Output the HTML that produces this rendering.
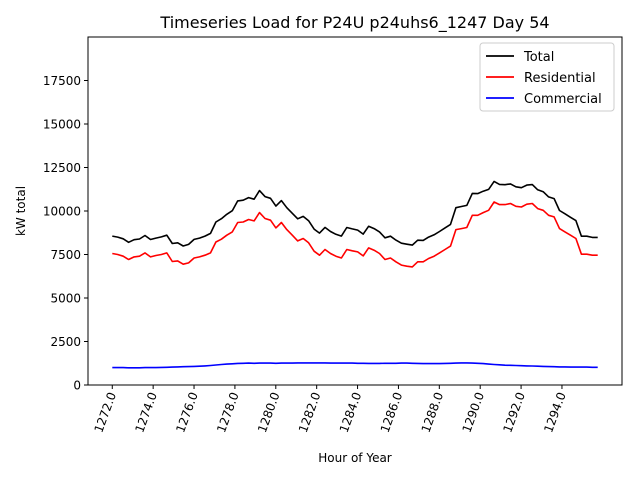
<!DOCTYPE html>
<html><head><meta charset="utf-8"><style>
body{margin:0;background:#fff;}
svg text{font-family:"DejaVu Sans","Liberation Sans",sans-serif;}
</style></head><body>
<svg id="chart" width="640" height="480" viewBox="0 0 640 480">
<rect width="640" height="480" fill="#fff"/>
<text x="355" y="28" font-size="16" text-anchor="middle">Timeseries Load for P24U p24uhs6_1247  Day 54</text>
<g id="plot"></g>
<rect x="88" y="37" width="534" height="348" fill="none" stroke="#000" stroke-width="1"/>
<text x="355" y="462" font-size="12" text-anchor="middle">Hour of Year</text>
<text x="25" y="211" font-size="12" text-anchor="middle" transform="rotate(-90 25 211)">kW total</text>
<g>
<rect x="480" y="43" width="134" height="68" rx="3" fill="#fff" stroke="#ccc"/>
<line x1="486" y1="56" x2="514" y2="56" stroke="#000" stroke-width="1.8"/>
<text x="524" y="61" font-size="13">Total</text>
<line x1="486" y1="77" x2="514" y2="77" stroke="#f00" stroke-width="1.8"/>
<text x="524" y="82" font-size="13">Residential</text>
<line x1="486" y1="98" x2="514" y2="98" stroke="#00f" stroke-width="1.8"/>
<text x="524" y="103" font-size="13">Commercial</text>
</g>
</svg>
<script>
const residential=[7560,7500,7400,7210,7360,7400,7590,7360,7440,7500,7590,7100,7130,6940,7020,7300,7360,7460,7590,8220,8380,8610,8800,9340,9370,9510,9430,9910,9570,9470,9030,9340,8930,8610,8280,8420,8170,7690,7460,7790,7560,7400,7300,7790,7710,7650,7420,7880,7750,7560,7210,7300,7080,6890,6830,6790,7080,7080,7270,7400,7590,7790,7980,8930,8990,9050,9750,9750,9910,10040,10520,10370,10370,10430,10270,10230,10390,10430,10140,10040,9750,9660,8990,8800,8610,8420,7520,7520,7460,7460];
const commercial=[1000,1000,1000,990,990,990,1000,1000,1000,1010,1020,1030,1040,1050,1060,1070,1080,1100,1120,1150,1180,1200,1220,1240,1250,1260,1250,1260,1260,1260,1250,1260,1260,1260,1270,1270,1270,1270,1270,1270,1260,1260,1260,1260,1260,1250,1250,1240,1240,1240,1250,1250,1250,1260,1260,1250,1240,1230,1230,1230,1230,1240,1250,1260,1270,1270,1260,1250,1230,1200,1180,1160,1140,1130,1120,1110,1100,1090,1080,1070,1060,1050,1040,1040,1030,1030,1030,1030,1020,1020];
const total=residential.map((v,i)=>v+commercial[i]);
const xTicks=[1272,1274,1276,1278,1280,1282,1284,1286,1288,1290,1292,1294];
const yTicks=[0,2500,5000,7500,10000,12500,15000,17500];
const startHour=1272, endHour=1295.75;
const X0=88,X1=622,Y0=385,Y1=37;
const xmin=1270.8125,xmax=1296.9375,ymin=0,ymax=20000;
const xs=h=>X0+(h-xmin)/(xmax-xmin)*(X1-X0);
const ys=v=>Y0-(v-ymin)/(ymax-ymin)*(Y0-Y1);
const NS='http://www.w3.org/2000/svg';
const plot=document.getElementById('plot');
function mk(t,a){const e=document.createElementNS(NS,t);for(const k in a)e.setAttribute(k,a[k]);plot.appendChild(e);return e;}
xTicks.forEach(h=>{
 const x=xs(h);
 const l=mk('line',{x1:x,y1:385,x2:x,y2:389,stroke:'#000'});
 
 
 const t=mk('text',{x:x+4,y:394,'font-size':12,'text-anchor':'end',transform:`rotate(-70 ${x+4} 394)`});
 t.textContent=h.toFixed(1);
 
 
});
yTicks.forEach(v=>{
 const y=ys(v);
 const l=mk('line',{x1:84,y1:y,x2:88,y2:y,stroke:'#000'});
 
 
 const t=mk('text',{x:81,y:y+4.5,'font-size':12,'text-anchor':'end'});
 t.textContent=v;
 
 
});
function series(arr,color,name){
 const n=arr.length;
 const pts=arr.map((v,i)=>xs(startHour+(endHour-startHour)*i/(n-1)).toFixed(1)+','+ys(v).toFixed(1)).join(' ');
 const p=mk('polyline',{points:pts,fill:'none',stroke:color,'stroke-width':1.6,'stroke-linejoin':'round'});
 
 
}
series(total,'#000','total-line');
series(residential,'#f00','residential-line');
series(commercial,'#00f','commercial-line');
</script>
</body></html>
